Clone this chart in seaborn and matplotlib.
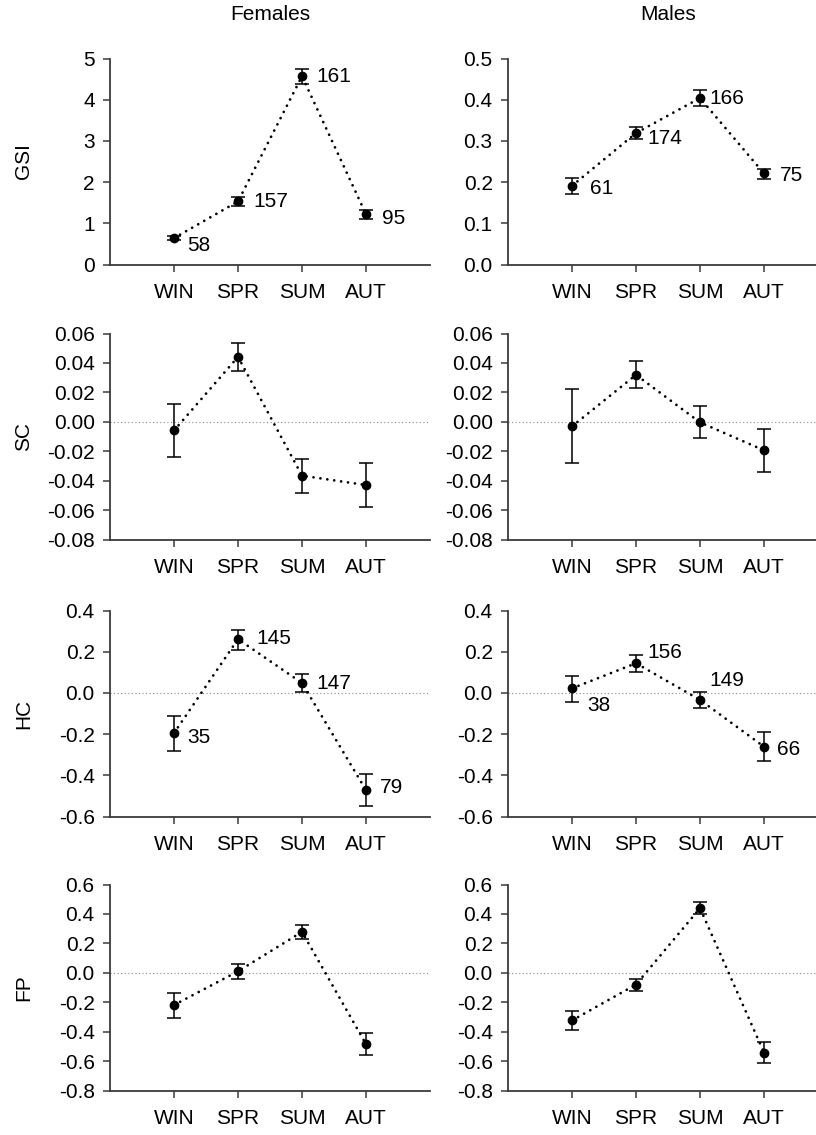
import numpy as np
import matplotlib
matplotlib.use("Agg")
import matplotlib.pyplot as plt
from matplotlib.ticker import FormatStrFormatter
import seaborn as sns
import pandas as pd

# ---------------- data ----------------
seasons = ["WIN", "SPR", "SUM", "AUT"]
col_titles = ["Females", "Males"]
row_labels = ["GSI", "SC", "HC", "FP"]

f_gsi_mean = [0.64, 1.53, 4.57, 1.22]
f_gsi_lo = [0.59, 1.41, 4.39, 1.11]
f_gsi_hi = [0.69, 1.65, 4.75, 1.33]
f_gsi_n = ["58", "157", "161", "95"]

m_gsi_mean = [0.191, 0.319, 0.404, 0.221]
m_gsi_lo = [0.171, 0.304, 0.385, 0.207]
m_gsi_hi = [0.209, 0.333, 0.423, 0.233]
m_gsi_n = ["61", "174", "166", "75"]

f_sc_mean = [-0.0059, 0.0441, -0.0366, -0.0430]
f_sc_lo = [-0.0236, 0.0343, -0.0486, -0.0577]
f_sc_hi = [0.0123, 0.0536, -0.0252, -0.0282]

m_sc_mean = [-0.0031, 0.0319, -0.0004, -0.0194]
m_sc_lo = [-0.0283, 0.0230, -0.0113, -0.0342]
m_sc_hi = [0.0221, 0.0410, 0.0110, -0.0047]

f_hc_mean = [-0.195, 0.261, 0.048, -0.472]
f_hc_lo = [-0.281, 0.208, 0.003, -0.550]
f_hc_hi = [-0.111, 0.306, 0.092, -0.395]
f_hc_n = ["35", "145", "147", "79"]

m_hc_mean = [0.022, 0.144, -0.034, -0.261]
m_hc_lo = [-0.042, 0.102, -0.075, -0.332]
m_hc_hi = [0.082, 0.183, 0.006, -0.191]
m_hc_n = ["38", "156", "149", "66"]

f_fp_mean = [-0.219, 0.010, 0.278, -0.485]
f_fp_lo = [-0.306, -0.040, 0.232, -0.562]
f_fp_hi = [-0.138, 0.058, 0.323, -0.412]

m_fp_mean = [-0.324, -0.080, 0.439, -0.542]
m_fp_lo = [-0.390, -0.122, 0.398, -0.612]
m_fp_hi = [-0.263, -0.041, 0.482, -0.472]

# y-axis settings (min, max, step, format)
gsi_f_axis = (0, 5, 1, "%d")
gsi_m_axis = (0, 0.5, 0.1, "%.1f")
sc_axis = (-0.08, 0.06, 0.02, "%.2f")
hc_axis = (-0.6, 0.4, 0.2, "%.1f")
fp_axis = (-0.8, 0.6, 0.2, "%.1f")

# label offsets in pixels (dx, dy)
f_gsi_off = [(13, -7), (15, 0), (14, 0), (16, -4)]
m_gsi_off = [(18, -3), (11, -5), (9, 0), (16, -2)]
f_hc_off = [(13, -4), (18, 1), (14, 0), (14, 3)]
m_hc_off = [(15, -17), (11, 11), (9, 19), (13, -3)]

panels = [
    [(f_gsi_mean, f_gsi_lo, f_gsi_hi, f_gsi_n, f_gsi_off, gsi_f_axis, False),
     (m_gsi_mean, m_gsi_lo, m_gsi_hi, m_gsi_n, m_gsi_off, gsi_m_axis, False)],
    [(f_sc_mean, f_sc_lo, f_sc_hi, None, None, sc_axis, True),
     (m_sc_mean, m_sc_lo, m_sc_hi, None, None, sc_axis, True)],
    [(f_hc_mean, f_hc_lo, f_hc_hi, f_hc_n, f_hc_off, hc_axis, True),
     (m_hc_mean, m_hc_lo, m_hc_hi, m_hc_n, m_hc_off, hc_axis, True)],
    [(f_fp_mean, f_fp_lo, f_fp_hi, None, None, fp_axis, True),
     (m_fp_mean, m_fp_lo, m_fp_hi, None, None, fp_axis, True)],
]

# ---------------- style ----------------
sns.set_theme(style="ticks")
plt.rcParams["font.family"] = ["Liberation Sans", "DejaVu Sans"]
plt.rcParams["axes.unicode_minus"] = False
FS = 15
SPINE = "#3a3a3a"

W, H = 816, 1135
fig = plt.figure(figsize=(W / 100, H / 100), dpi=100)

col_left_px = [110, 508]
ax_w_px = 320
row_top_px = [58.5, 333.5, 610.5, 884.5]
ax_h_px = 206

x = np.arange(len(seasons))

for r in range(4):
    for c in range(2):
        mean, lo, hi, ns, offs, axis_cfg, zero = panels[r][c]
        left = col_left_px[c] / W
        bottom = 1 - (row_top_px[r] + ax_h_px) / H
        ax = fig.add_axes([left, bottom, ax_w_px / W, ax_h_px / H])
        ymin, ymax, step, fmt = axis_cfg
        mean = np.asarray(mean)
        lo = np.asarray(lo)
        hi = np.asarray(hi)
        if zero:
            ax.axhline(0, color="#8a8a8a", lw=0.8, linestyle=(0, (1, 2.2)), zorder=1)
        df = pd.DataFrame({"pos": x, "value": mean})
        sns.lineplot(data=df, x="pos", y="value", ax=ax, color="black", lw=2.0,
                     linestyle=(0, (0.01, 2.5)), dash_capstyle="round",
                     sort=False, zorder=2)
        ax.errorbar(x, mean, yerr=[mean - lo, hi - mean], fmt="o", color="black",
                    ms=6, capsize=5, elinewidth=1.1, capthick=1.1, zorder=3)
        if ns is not None:
            for xi, yi, lab, (dx, dy) in zip(x, mean, ns, offs):
                ax.annotate(lab, (xi, yi), xytext=(dx, dy), textcoords="offset pixels",
                            ha="left", va="center", fontsize=FS, color="black")
        ax.set_xlim(-1, 4)
        ax.set_ylim(ymin, ymax)
        ax.set_yticks(np.round(np.arange(ymin, ymax + step / 2, step), 4) + 0.0)
        ax.yaxis.set_major_formatter(FormatStrFormatter(fmt))
        ax.set_xticks(x)
        ax.set_xticklabels(seasons)
        ax.set_xlabel("")
        ax.set_ylabel("")
        for s in ["top", "right"]:
            ax.spines[s].set_visible(False)
        for s in ["left", "bottom"]:
            ax.spines[s].set_color(SPINE)
            ax.spines[s].set_linewidth(1.3)
        ax.tick_params(axis="both", direction="out", length=5, width=1.1,
                       color=SPINE, labelsize=FS, labelcolor="black")
        ax.tick_params(axis="x", pad=8)
        ax.tick_params(axis="y", pad=6)
        if c == 0:
            ax.set_ylabel(row_labels[r], fontsize=FS, color="black")
            ax.yaxis.set_label_coords((33 - 110) / ax_w_px, 0.5)
        if r == 0:
            cx = (col_left_px[c] + ax_w_px * 2.5 / 5) / W
            fig.text(cx, 1 - 14 / H, col_titles[c], ha="center", va="center",
                     fontsize=FS, color="black")

fig.savefig("out.png", dpi=100)
